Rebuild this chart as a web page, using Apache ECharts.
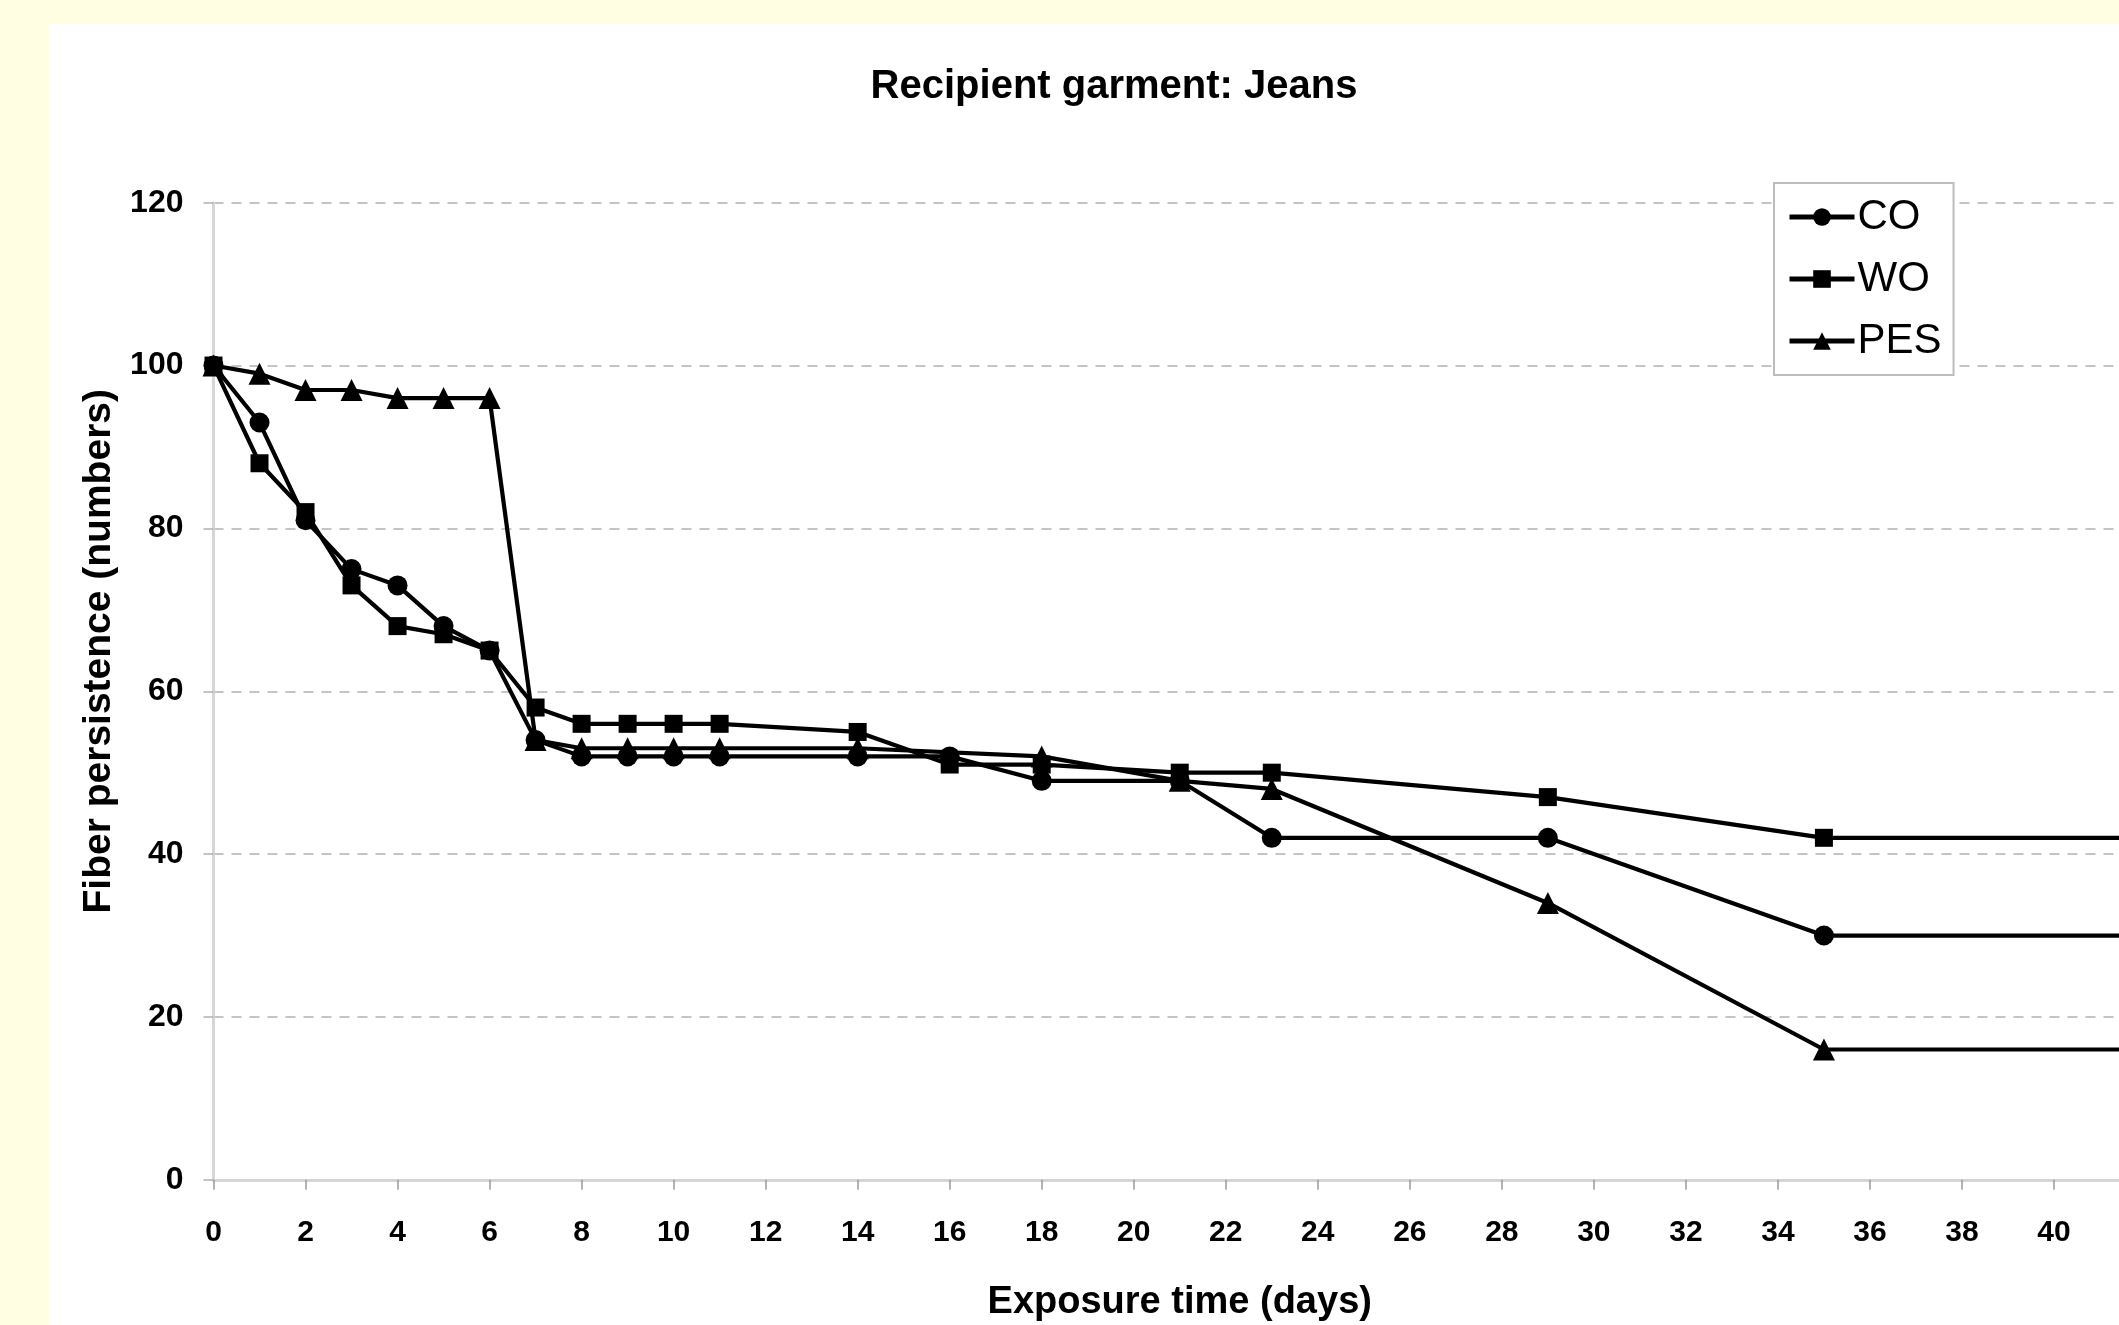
<!DOCTYPE html>
<html>
<head>
<meta charset="utf-8">
<style>
html,body{margin:0;padding:0;background:#FFFEE3;}
#chart{width:2119px;height:1325px;}
</style>
<script src="https://cdn.jsdelivr.net/npm/echarts@6/dist/echarts.min.js"></script>
</head>
<body>
<div id="chart"></div>
<script>
// ---- data ----
const days = [0, 1, 2, 3, 4, 5, 6, 7, 8, 9, 10, 11, 14, 16, 18, 21, 23, 29, 35, 42];
const coValues  = [100, 93, 81, 75, 73, 68, 65, 54, 52, 52, 52, 52, 52, 52, 49, 49, 42, 42, 30, 30];
const woValues  = [100, 88, 82, 73, 68, 67, 65, 58, 56, 56, 56, 56, 55, 51, 51, 50, 50, 47, 42, 42];
const pesValues = [100, 99, 97, 97, 96, 96, 96, 54, 53, 53, 53, 53, 53, null, 52, 49, 48, 34, 16, 16];
const seriesNames = ['CO', 'WO', 'PES'];
const titleText = 'Recipient garment: Jeans';
const xAxisTitle = 'Exposure time (days)';
const yAxisTitle = 'Fiber persistence (numbers)';

const FONT = '"Liberation Sans", Arial, sans-serif';
function pairs(vals) { return days.map((d, i) => [d, vals[i]]); }

const chart = echarts.init(document.getElementById('chart'), null, {renderer: 'canvas'});
const lineStyle = {color: '#000', width: 4.2};
function mk(name, vals, symbol, size) {
  return {
    name: name, type: 'line', data: pairs(vals), connectNulls: true,
    symbol: symbol, symbolSize: size, showSymbol: true,
    itemStyle: {color: '#000'}, lineStyle: lineStyle,
    emphasis: {disabled: true}, animation: false, clip: true
  };
}
chart.setOption({
  animation: false,
  backgroundColor: '#FFFEE3',
  graphic: [{
    type: 'rect', z: -100, silent: true,
    shape: {x: 49, y: 24, width: 2119 - 49, height: 1325 - 24},
    style: {fill: '#ffffff'}
  }],
  title: {
    text: titleText, left: 1114, top: 67, textAlign: 'center', padding: 0,
    textStyle: {fontFamily: FONT, fontWeight: 'bold', fontSize: 40, color: '#000'}
  },
  legend: {
    orient: 'vertical', left: 1774, top: 183,
    padding: [13, 12, 13, 13], itemGap: 20, itemWidth: 65, itemHeight: 22,
    backgroundColor: '#fff', borderColor: '#bdbdbd', borderWidth: 2,
    lineStyle: {width: 5, color: '#000'},
    textStyle: {fontFamily: FONT, fontSize: 42, color: '#000', padding: [0, 0, 0, -2]},
    data: seriesNames
  },
  grid: {left: 213.5, width: 1932.5, top: 202.7, bottom: 145.2, containLabel: false, outerBoundsMode: 'none'},
  xAxis: {
    type: 'value', min: 0, max: 42, interval: 2,
    name: xAxisTitle, nameLocation: 'middle', nameGap: 104,
    nameTextStyle: {fontFamily: FONT, fontWeight: 'bold', fontSize: 38, color: '#000'},
    axisLine: {show: true, lineStyle: {color: '#d6d6d6', width: 3}},
    axisTick: {show: true, length: 10, lineStyle: {color: '#9a9a9a', width: 1.5}},
    axisLabel: {fontFamily: FONT, fontWeight: 'bold', fontSize: 30, color: '#000', margin: 38},
    splitLine: {show: false}
  },
  yAxis: {
    type: 'value', min: 0, max: 120, interval: 20,
    name: yAxisTitle, nameLocation: 'middle', nameGap: 94, nameRotate: 90,
    nameTextStyle: {fontFamily: FONT, fontWeight: 'bold', fontSize: 39, color: '#000', padding: [0, 0, 0, 80]},
    axisLine: {show: true, lineStyle: {color: '#d6d6d6', width: 3}},
    axisTick: {show: true, length: 10, lineStyle: {color: '#b0b0b0', width: 1.5}},
    axisLabel: {fontFamily: FONT, fontWeight: 'bold', fontSize: 32, color: '#000', margin: 30},
    splitLine: {show: true, lineStyle: {color: '#c4c4c4', width: 2, type: [10, 8]}}
  },
  series: [
    mk(seriesNames[0], coValues, 'circle', 20),
    mk(seriesNames[1], woValues, 'rect', 18),
    mk(seriesNames[2], pesValues, 'triangle', 22)
  ]
});
</script>
</body>
</html>
